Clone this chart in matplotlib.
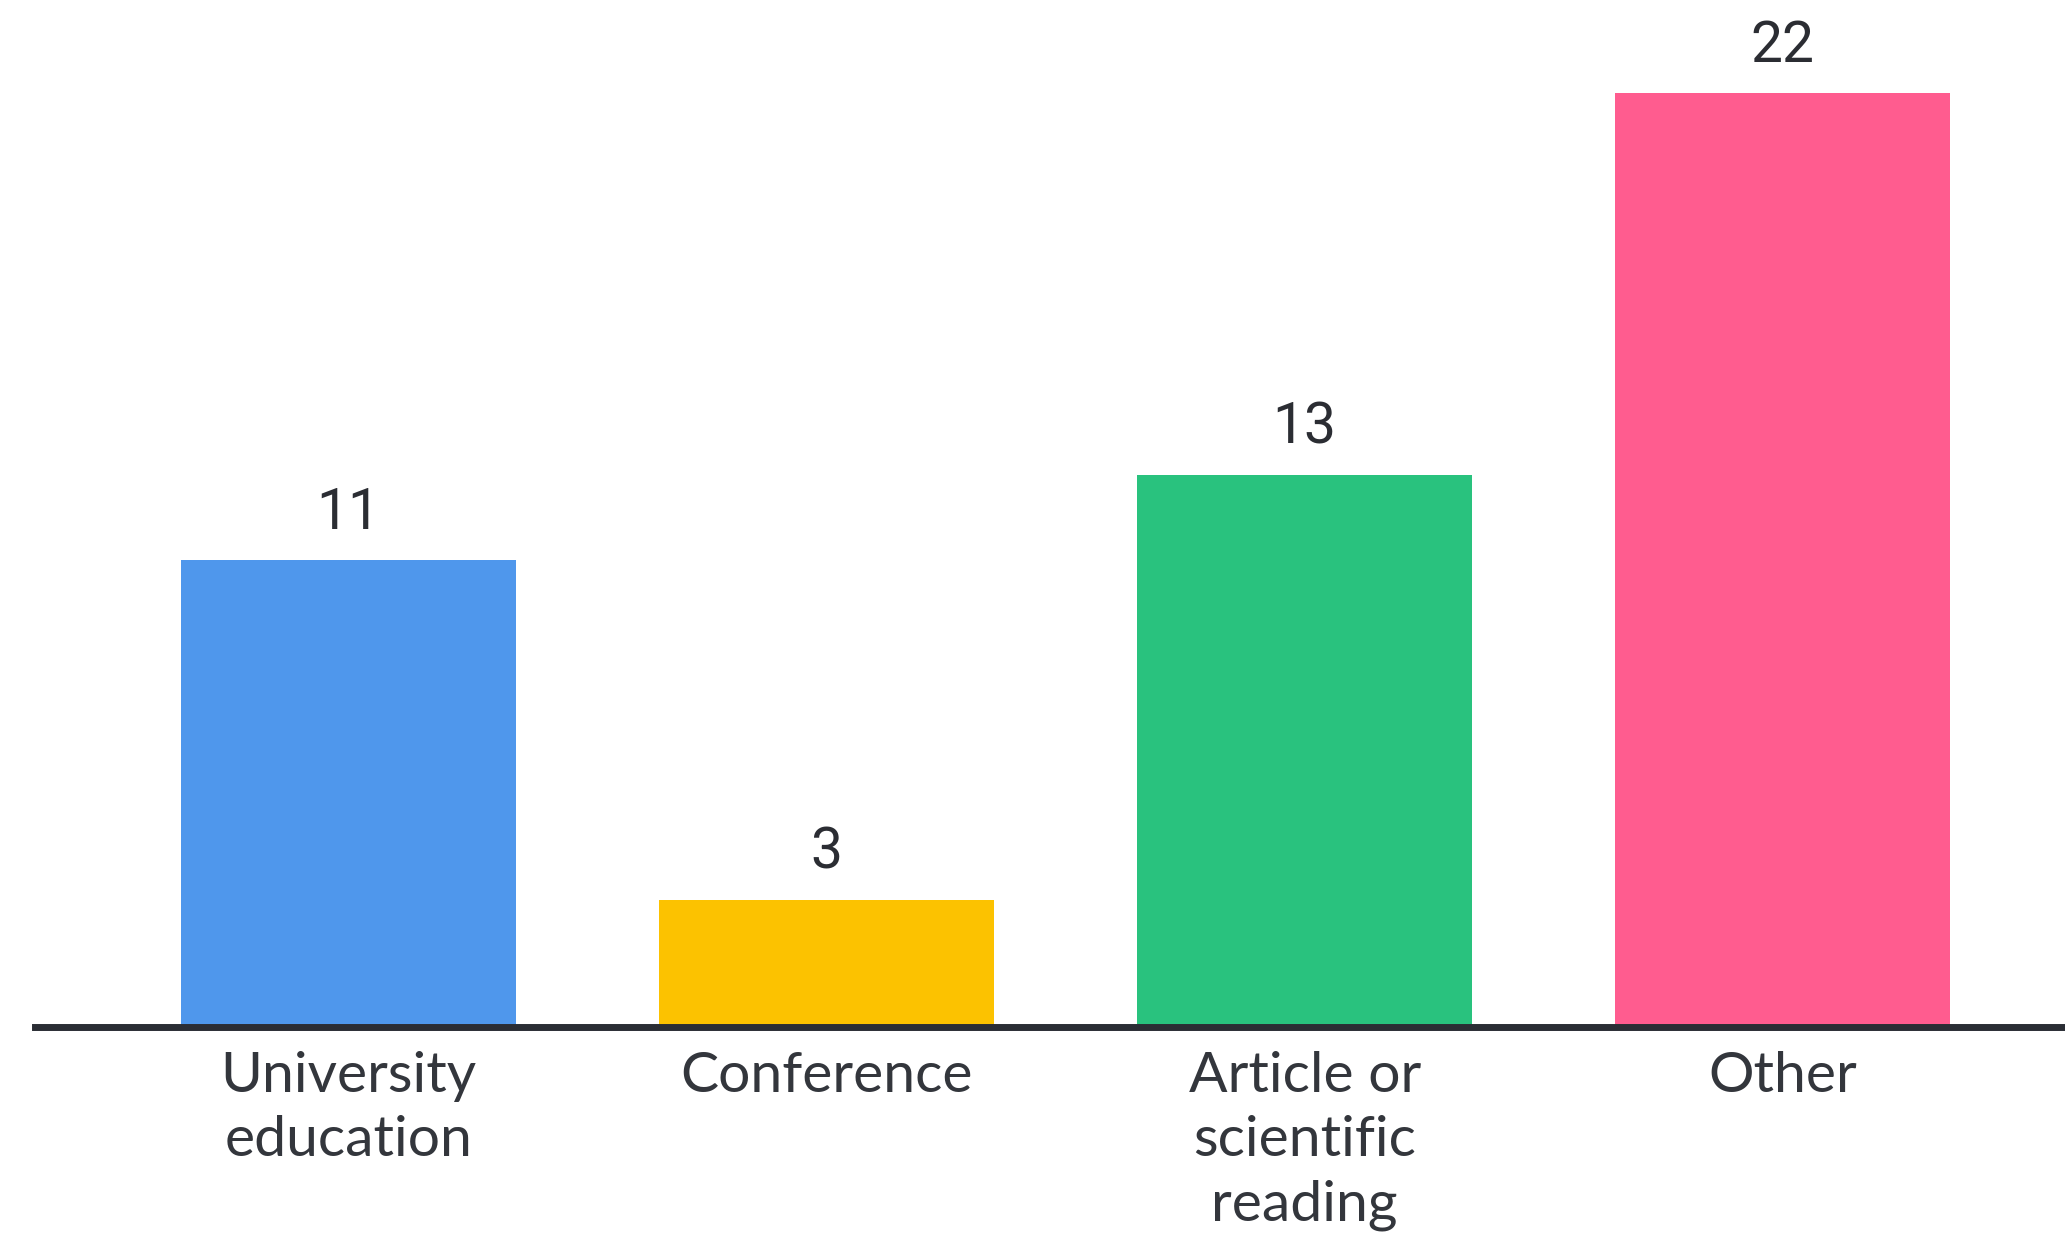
import matplotlib.pyplot as plt

categories = ["University\neducation", "Conference", "Article or\nscientific\nreading", "Other"]
counts = [11, 3, 13, 22]
bar_colors = ["#4f97ec", "#fcc200", "#29c27e", "#ff5c8f"]

fig = plt.figure(figsize=(20.65, 12.4), dpi=100)
ax = fig.add_axes([35 / 2065, 213 / 1240, 2030 / 2065, 1027 / 1240])

x = range(len(categories))
bars = ax.bar(x, counts, width=0.70, color=bar_colors, zorder=1)

for rect, val in zip(bars, counts):
    ax.annotate(str(val), (rect.get_x() + rect.get_width() / 2, rect.get_height()),
                xytext=(0, 14), textcoords="offset points", ha="center", va="bottom",
                fontsize=41, family="Roboto", color="#2b2d33")

ax.set_xlim(-0.655, 3.59)
ax.set_ylim(0, 24.19)

ax.set_xticks(list(x))
ax.set_xticklabels(categories, fontsize=41, family="Lato",
                   color="#33363c", linespacing=1.33)
ax.tick_params(axis="x", length=0, pad=17)
ax.set_yticks([])

for side in ["top", "left", "right"]:
    ax.spines[side].set_visible(False)
ax.spines["bottom"].set_linewidth(5)
ax.spines["bottom"].set_color("#2a2d34")
ax.spines["bottom"].set_zorder(3)

fig.savefig("out.png", dpi=100)
